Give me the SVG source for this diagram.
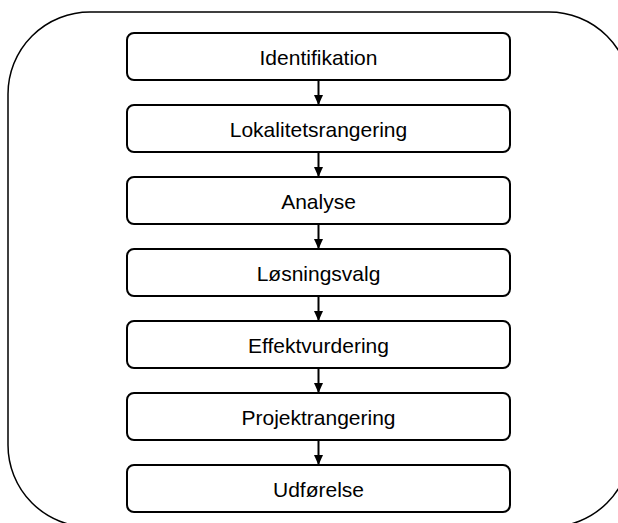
<svg xmlns="http://www.w3.org/2000/svg" width="618" height="523" viewBox="0 0 618 523">
<defs>
<style>
.box{fill:#fff;stroke:#000;stroke-width:2}
.lbl{font-family:"Liberation Sans",Arial,sans-serif;font-size:21px;fill:#000;text-anchor:middle}
.con{stroke:#000;stroke-width:2;fill:none}
</style>
<marker id="ah" markerWidth="10" markerHeight="9" refX="9" refY="4.5" orient="auto" markerUnits="userSpaceOnUse">
<path d="M0,0 L10,4.5 L0,9 Z" fill="#000"/>
</marker>
</defs>
<rect width="618" height="523" fill="#fff"/>
<g id="frame">
<rect x="8" y="12" width="623" height="515" rx="82" ry="82" fill="none" stroke="#000" stroke-width="1.5"/>
</g>
<g id="connectors">
<line class="con" x1="318.5" y1="80" x2="318.5" y2="104" marker-end="url(#ah)"/>
<line class="con" x1="318.5" y1="152" x2="318.5" y2="176" marker-end="url(#ah)"/>
<line class="con" x1="318.5" y1="224" x2="318.5" y2="248" marker-end="url(#ah)"/>
<line class="con" x1="318.5" y1="296" x2="318.5" y2="320" marker-end="url(#ah)"/>
<line class="con" x1="318.5" y1="368" x2="318.5" y2="392" marker-end="url(#ah)"/>
<line class="con" x1="318.5" y1="440" x2="318.5" y2="464" marker-end="url(#ah)"/>
</g>
<g id="n1"><rect class="box" x="127" y="33" width="383" height="47" rx="7"/><text class="lbl" x="318.5" y="64.5">Identifikation</text></g>
<g id="n2"><rect class="box" x="127" y="105" width="383" height="47" rx="7"/><text class="lbl" x="318.5" y="136.5">Lokalitetsrangering</text></g>
<g id="n3"><rect class="box" x="127" y="177" width="383" height="47" rx="7"/><text class="lbl" x="318.5" y="208.5">Analyse</text></g>
<g id="n4"><rect class="box" x="127" y="249" width="383" height="47" rx="7"/><text class="lbl" x="318.5" y="280.5">Løsningsvalg</text></g>
<g id="n5"><rect class="box" x="127" y="321" width="383" height="47" rx="7"/><text class="lbl" x="318.5" y="352.5">Effektvurdering</text></g>
<g id="n6"><rect class="box" x="127" y="393" width="383" height="47" rx="7"/><text class="lbl" x="318.5" y="424.5">Projektrangering</text></g>
<g id="n7"><rect class="box" x="127" y="465" width="383" height="47" rx="7"/><text class="lbl" x="318.5" y="496.5">Udførelse</text></g>
</svg>
